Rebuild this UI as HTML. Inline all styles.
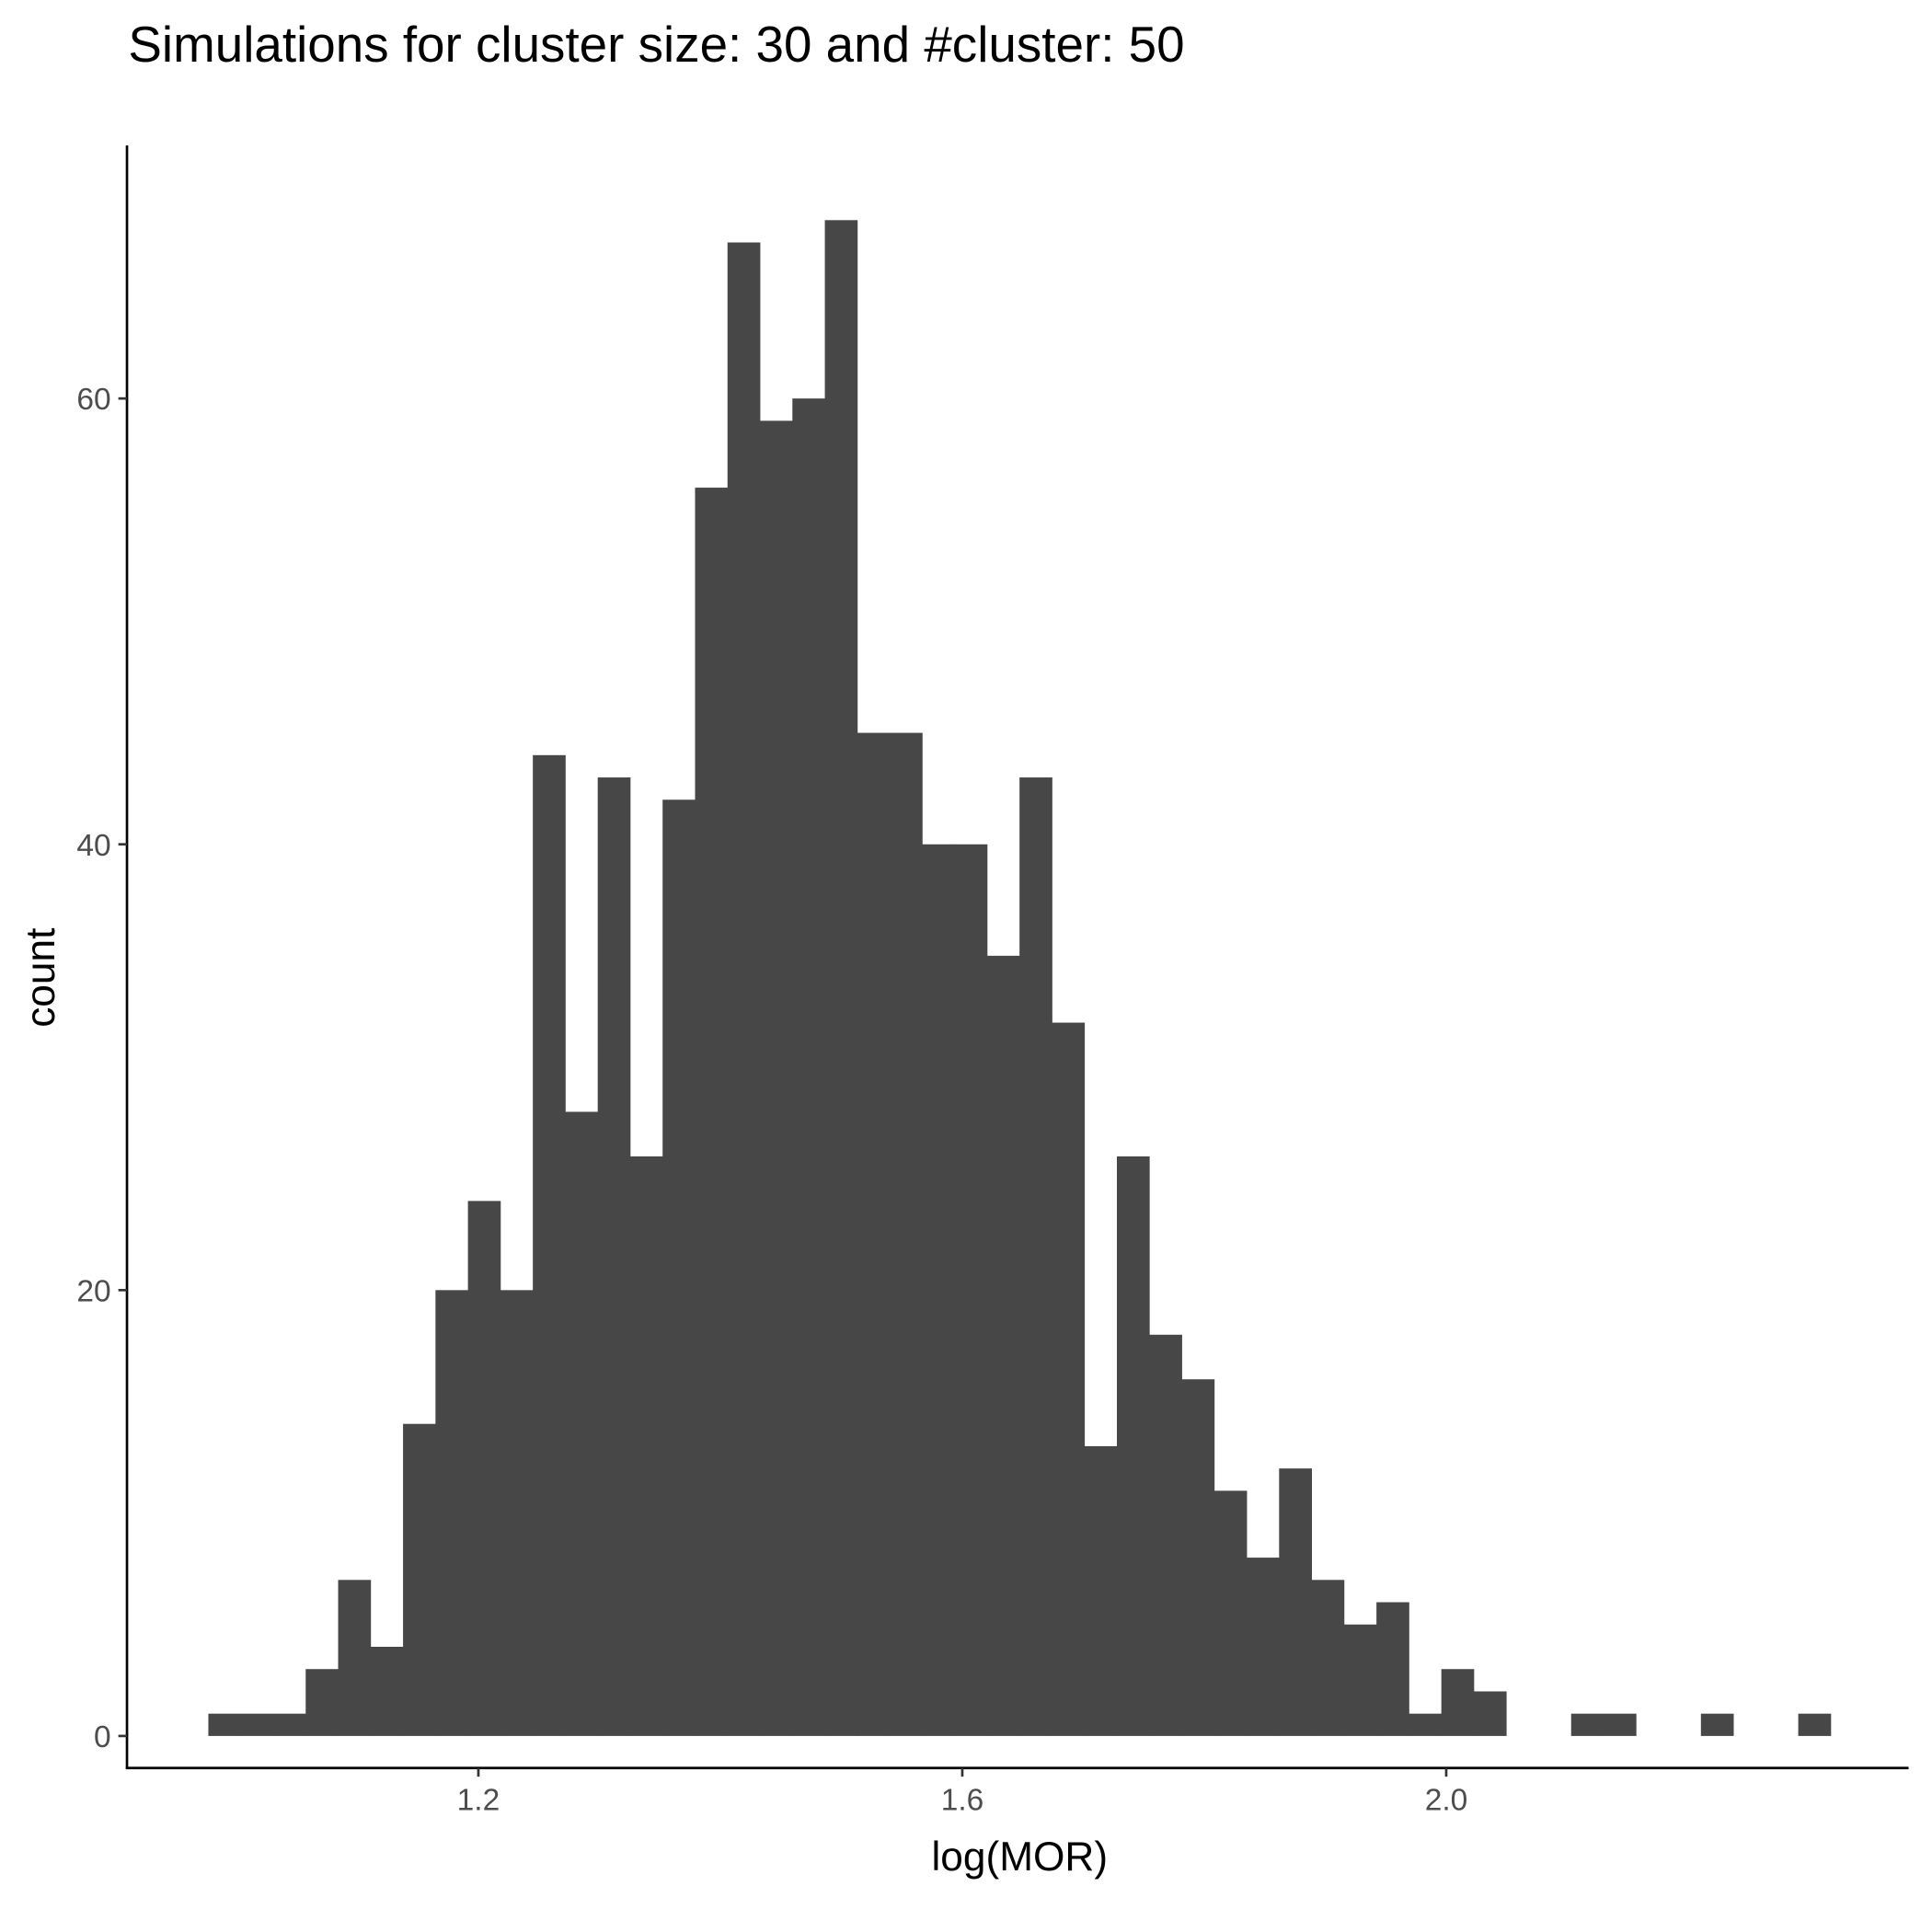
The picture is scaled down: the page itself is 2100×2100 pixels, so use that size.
<!DOCTYPE html>
<html><head><meta charset="utf-8"><style>
html,body{margin:0;padding:0;background:#fff;}
svg{display:block;font-family:"Liberation Sans",Arial,sans-serif;}
</style></head><body>
<svg id="chart" width="2100" height="2100" viewBox="0 0 1567 1567" xmlns="http://www.w3.org/2000/svg">
<rect width="1567" height="1567" fill="#fff"/>
<text x="104" y="50" font-size="40.9" fill="#000">Simulations for cluster size: 30 and #cluster: 50</text>
<g id="bars"></g>
<g id="axes"></g>
<text x="827" y="1517" font-size="33" text-anchor="middle" fill="#000">log(MOR)</text>
<text transform="translate(44,793) rotate(-90)" font-size="33" text-anchor="middle" fill="#000">count</text>
</svg>
<script>
const binStart = 0.9768;
const binWidth = 0.02682;
const counts = [1,1,1,3,7,4,14,20,24,20,44,28,43,26,42,56,67,59,60,68,45,45,40,40,35,43,32,13,26,18,16,11,8,12,7,5,6,1,3,2,0,0,1,1,0,0,1,0,0,1];
const xTicks = [1.2,1.6,2.0];
const xTickLabels = ["1.2","1.6","2.0"];
const yTicks = [0,20,40,60];
const yTickLabels = ["0","20","40","60"];

const NS="http://www.w3.org/2000/svg";
function xs(v){return 388+(v-1.2)*(392.5/0.4);}
function ys(v){return 1408-v*18.08;}
function mk(tag,attrs,parent){const e=document.createElementNS(NS,tag);for(const k in attrs)e.setAttribute(k,attrs[k]);parent.appendChild(e);return e;}
const bars=document.getElementById('bars');
counts.forEach((c,i)=>{
  if(c<=0)return;
  const x0=xs(binStart+i*binWidth),x1=xs(binStart+(i+1)*binWidth);
  const r=mk('rect',{x:x0,y:ys(c),width:x1-x0+0.3,height:ys(0)-ys(c),fill:'#474747'},bars);
  
  
});
const axes=document.getElementById('axes');
const yl=mk('line',{x1:103,y1:118,x2:103,y2:1434,stroke:'#000','stroke-width':2},axes);


const xl=mk('line',{x1:102,y1:1434,x2:1548,y2:1434,stroke:'#000','stroke-width':2},axes);


xTicks.forEach((t,i)=>{
  const x=xs(t);
  const tk=mk('line',{x1:x,y1:1434,x2:x,y2:1441,stroke:'#333','stroke-width':2},axes);
  
  
  const tx=mk('text',{x:x,y:1468,'font-size':25,'text-anchor':'middle',fill:'#4d4d4d'},axes);
  tx.textContent=xTickLabels[i];
  
  
});
yTicks.forEach((t,i)=>{
  const y=ys(t);
  const tk=mk('line',{x1:96,y1:y,x2:103,y2:y,stroke:'#333','stroke-width':2},axes);
  
  
  const tx=mk('text',{x:90,y:y+9,'font-size':25,'text-anchor':'end',fill:'#4d4d4d'},axes);
  tx.textContent=yTickLabels[i];
  
  
});
</script>
</body></html>
